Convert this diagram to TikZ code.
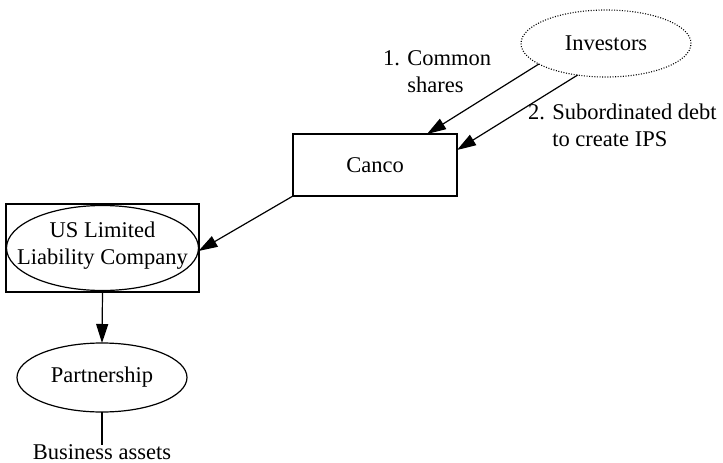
\documentclass[tikz,border=0pt]{standalone}
\usepackage{fontspec}
\setmainfont{Liberation Serif}
\usetikzlibrary{arrows.meta,shapes.geometric,calc}
\begin{document}
\begin{tikzpicture}[x=1pt,y=-1pt,
  every node/.style={font=\fontsize{22.5}{27}\selectfont, outer sep=0pt, inner sep=0pt},
  line/.style={line width=1.2pt, draw=black},
  arr/.style={line, -{Triangle[length=19pt,width=12pt]}},
  box/.style={rectangle, line}]
\useasboundingbox (0,0) rectangle (723,463);
% nodes
\node[ellipse, draw, line width=1.1pt, dash pattern=on 1pt off 1.6pt,
      minimum width=170pt, minimum height=67pt] (inv) at (606,43.5) {Investors};
\node[box, minimum width=164pt, minimum height=62pt] (canco) at (375,165) {Canco};
\node[box, minimum width=193pt, minimum height=88pt] (llcbox) at (102.5,248) {};
\node[ellipse, line, minimum width=192pt, minimum height=85pt] (llc) at (102.5,248) {};
\node[align=center] (llctext) at (102.5,246) {US Limited\\Liability Company};
\node[ellipse, line, minimum width=170pt, minimum height=69pt] (part) at (102,377.5) {Partnership};
\node[anchor=base] (assets) at (102,459) {Business assets};
% labels
\node[anchor=west, align=left] (lab1) at (383,74)
  {\begin{tabular}{@{}l@{ }l@{}}1.&Common\\&shares\end{tabular}};
\node[anchor=west, align=left] (lab2) at (528,128)
  {\begin{tabular}{@{}l@{ }l@{}}2.&Subordinated debt\\&to create IPS\end{tabular}};
% connectors
\draw[arr] (inv.197) -- ([xshift=-30pt]canco.north east);
\draw[arr] (inv.228) -- ([yshift=-16pt]canco.north east);
\draw[arr] (canco.south west) -- ([yshift=-3pt]llc.east);
\draw[arr] (llcbox.south) -- (part.north);
\draw[line] (part.south) -- ([yshift=-1pt]assets.north);
\end{tikzpicture}
\end{document}
